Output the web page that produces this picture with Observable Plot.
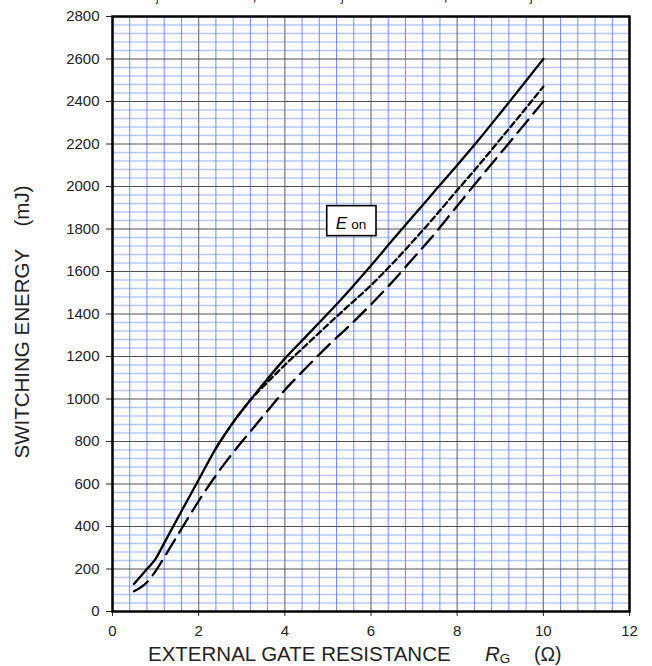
<!DOCTYPE html>
<html>
<head>
<meta charset="utf-8">
<script src="https://cdn.jsdelivr.net/npm/d3@7"></script>
<script src="https://cdn.jsdelivr.net/npm/@observablehq/plot@0.6"></script>
<style>
  html, body { margin: 0; padding: 0; background: white; }
  #chart svg { display: block; font-family: "Liberation Sans", Arial, sans-serif; }
</style>
</head>
<body>
<div id="chart"></div>
<script>
// ---- data ----
const rgSolid = [0.5, 0.8, 1.0, 1.2, 1.6, 2.0, 2.4, 2.8, 3.2, 3.6, 4.0, 4.5, 5.0, 5.5, 6.0, 6.5, 7.0, 7.5, 8.0, 8.5, 9.0, 9.5, 10];
const eSolid  = [130, 200, 248, 322, 472, 620, 768, 890, 995, 1095, 1190, 1296, 1402, 1512, 1628, 1748, 1866, 1983, 2100, 2220, 2345, 2472, 2600];

const rgDotted = [2.4, 2.8, 3.2, 3.6, 4.0, 4.5, 5.0, 5.5, 6.0, 6.5, 7.0, 7.5, 8.0, 8.5, 9.0, 9.5, 10];
const eDotted  = [768, 890, 995, 1080, 1160, 1255, 1350, 1443, 1535, 1638, 1748, 1863, 1982, 2100, 2222, 2345, 2470];

const rgDashed = [0.5, 0.8, 1.0, 1.2, 1.5, 1.8, 2.0, 2.4, 2.8, 3.2, 3.6, 4.0, 4.5, 5.0, 5.5, 6.0, 6.5, 7.0, 7.5, 8.0, 8.5, 9.0, 9.5, 10];
const eDashed  = [95, 138, 190, 255, 355, 455, 520, 640, 748, 847, 945, 1042, 1148, 1250, 1345, 1445, 1552, 1667, 1783, 1908, 2033, 2155, 2277, 2400];

const xTicks = [0, 2, 4, 6, 8, 10, 12];
const yTicks = [0, 200, 400, 600, 800, 1000, 1200, 1400, 1600, 1800, 2000, 2200, 2400, 2600, 2800];
const xMinorStep = 0.4;
const yMinorStep = 40;

const annotation = [{x: 5.556, y: 1837, main: "E", sub: "on"}];
const tempLabels = ["25 °C", "125 °C", "150 °C"];

const xTitle = ["EXTERNAL GATE RESISTANCE", "R", "G", "(Ω)"];
const yTitle = "SWITCHING ENERGY    (mJ)";

// ---- build tables ----
const toRows = (xs, ys) => xs.map((x, i) => ({x, y: ys[i]}));
const solid = toRows(rgSolid, eSolid);
const dotted = toRows(rgDotted, eDotted);
const dashed = toRows(rgDashed, eDashed);

const xMinor = d3.range(0, 12 + 1e-9, xMinorStep).map(v => +v.toFixed(2)).filter(v => !xTicks.includes(v));
const yMinor = d3.range(0, 2800 + 1e-9, yMinorStep).filter(v => !yTicks.includes(v));

const W = 652, H = 666;
const mL = 112, mR = 23, mT = 16, mB = 55;

const plot = Plot.plot({
  width: W,
  height: H,
  marginLeft: mL,
  marginRight: mR,
  marginTop: mT,
  marginBottom: mB,
  style: {fontFamily: "'Liberation Sans', Arial, sans-serif", fontSize: "15px", color: "#222", background: "white"},
  x: {domain: [0, 12]},
  y: {domain: [0, 2800]},
  marks: [
    Plot.ruleY(yMinor, {stroke: "#b6c8f6", strokeWidth: 1.7}),
    Plot.ruleX(xMinor, {stroke: "#6b8cf3", strokeWidth: 1}),
    Plot.ruleX(xTicks, {stroke: "#808080", strokeWidth: 1.3}),
    Plot.ruleY(yTicks, {stroke: "#505050", strokeWidth: 1}),
    Plot.line(dashed, {x: "x", y: "y", curve: "monotone-x", stroke: "black", strokeWidth: 2.3, strokeDasharray: "17,8"}),
    Plot.line(dotted, {x: "x", y: "y", curve: "monotone-x", stroke: "black", strokeWidth: 2.3, strokeDasharray: "6,3.5"}),
    Plot.line(solid, {x: "x", y: "y", curve: "monotone-x", stroke: "black", strokeWidth: 2.3}),
    Plot.rect(annotation, {x1: d => d.x - 0.572, x2: d => d.x + 0.572, y1: d => d.y - 70.6, y2: d => d.y + 70.6, fill: "white", stroke: "black", strokeWidth: 1.6}),
    Plot.text(annotation, {x: "x", y: "y", text: "main", fontSize: 17, fontStyle: "italic", dx: -10.5, dy: 2.5, fill: "black"}),
    Plot.text(annotation, {x: "x", y: "y", text: "sub", fontSize: 13.5, dx: 7, dy: 4, fill: "black", style: "letter-spacing:1px"}),
    Plot.axisX({ticks: xTicks, tickSize: 5, tickPadding: 9, fontSize: 15, label: null, tickFormat: d => String(d)}),
    Plot.axisY({ticks: yTicks, tickSize: 6, tickPadding: 7, fontSize: 15, label: null, tickFormat: d => String(d)}),
    Plot.frame({stroke: "black", strokeWidth: 2.5})
  ]
});

document.getElementById("chart").appendChild(plot);

// ---- titles (real text) ----
const svg = d3.select(plot);
const ns = "'Liberation Sans', Arial, sans-serif";

// enlarge tick labels to match the reference
svg.selectAll("g[aria-label$='tick label']").attr("font-size", 15).selectAll("text").attr("font-size", 15);

// x title
const xt = svg.append("text")
  .attr("x", 148).attr("y", H - 5)
  .attr("text-anchor", "start")
  .attr("font-family", ns).attr("font-size", 20.5).attr("fill", "#222")
  .style("white-space", "pre");
xt.append("tspan").text(xTitle[0]);
xt.append("tspan").attr("x", 485).attr("font-style", "italic").text(xTitle[1]);
xt.append("tspan").attr("font-size", 13.5).attr("dy", 2).text(xTitle[2]);
xt.append("tspan").attr("x", 534).attr("dy", -2).attr("font-size", 19.5).text(xTitle[3]);

// y title
svg.append("text")
  .attr("transform", `translate(29, 322) rotate(-90)`)
  .attr("text-anchor", "middle")
  .attr("font-family", ns).attr("font-size", 20.5).attr("fill", "#222")
  .style("white-space", "pre")
  .text(yTitle);

// clipped header line at top
const starts = [145, 330, 519];
const commas = [252, 443];
tempLabels.forEach((lab, i) => {
  const t = svg.append("text").attr("x", starts[i]).attr("y", -2)
    .attr("text-anchor", "start")
    .attr("font-family", ns).attr("font-size", 18).attr("fill", "#222");
  t.append("tspan").text("T");
  t.append("tspan").attr("font-size", 12).attr("dy", 3).text("j");
  t.append("tspan").attr("dy", -3).text(" = " + lab);
  if (i < commas.length) {
    svg.append("text").attr("x", commas[i]).attr("y", 0)
      .attr("text-anchor", "start")
      .attr("font-family", ns).attr("font-size", 18).attr("fill", "#222").text(",");
  }
});
</script>
</body>
</html>
